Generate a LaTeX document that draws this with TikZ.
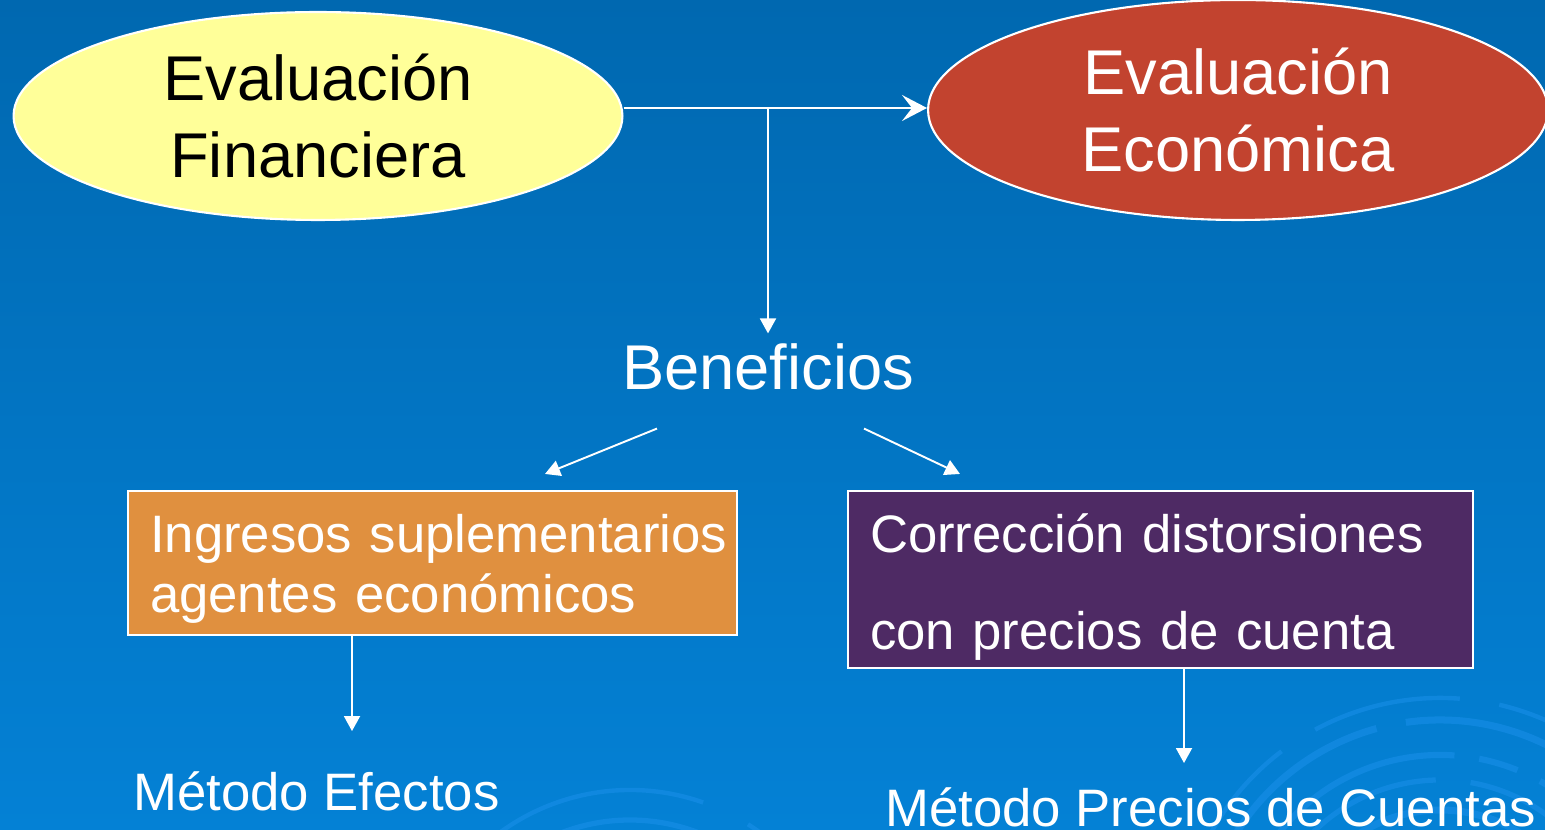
\documentclass[tikz,border=0pt]{standalone}
\usepackage{fontspec}
\setmainfont{Liberation Sans}
\usetikzlibrary{positioning,arrows.meta,calc,shapes.geometric}
\definecolor{sky}{HTML}{0068B0}
\definecolor{skylow}{HTML}{0481D5}
\definecolor{swirl}{HTML}{1A90EA}
\definecolor{lemon}{HTML}{FFFF99}
\definecolor{brick}{HTML}{C2432F}
\definecolor{amber}{HTML}{E0903F}
\definecolor{plum}{HTML}{4E2A64}

\begin{document}
\begin{tikzpicture}[x=0.02cm,y=-0.02cm,
  evl/.style={ellipse,draw=white,line width=1.2pt,inner sep=0pt,align=center,
    font=\fontsize{36}{44}\selectfont},
  box/.style={rectangle,draw=white,line width=1.2pt,text=white,inner xsep=0.44cm,
    inner ysep=0pt,align=left,text height=10pt,font=\fontsize{30}{34}\selectfont},
  lbl/.style={text=white,inner sep=0.2cm},
  wline/.style={draw=white,line width=1.1pt},
  tri/.style={-{Triangle[length=0.3cm,width=0.32cm]}}
]
% ---- backdrop
\fill[top color=sky,bottom color=skylow] (0,0) rectangle (1545,830);
\useasboundingbox (0,0) rectangle (1545,830);
\clip (0,0) rectangle (1545,830);
% swirl, bottom right and bottom left
\begin{scope}[swirl,opacity=0.55]
\draw[line width=2.5pt,dash pattern=on 3cm off 0.8cm] (1440,960) ++(200:262) arc (200:340:262);
\draw[line width=4pt,dash pattern=on 5cm off 0.6cm] (1440,960) ++(195:240) arc (195:345:240);
\draw[line width=3.5pt,dash pattern=on 0.8cm off 0.5cm on 4cm off 0.5cm] (1440,960) ++(200:205) arc (200:340:205);
\draw[line width=3pt,dash pattern=on 4cm off 0.7cm] (1440,960) ++(205:180) arc (205:335:180);
\draw[line width=4pt] (1440,960) ++(215:150) arc (215:325:150);
\draw[line width=2.5pt,dash pattern=on 0.6cm off 0.5cm on 5cm off 1cm] (630,1010) ++(210:220) arc (210:330:220);
\draw[line width=3pt] (630,1010) ++(215:190) arc (215:325:190);
\end{scope}
% ---- the two evaluations
\node[evl,fill=lemon,text=black,minimum width=12.18cm,minimum height=4.16cm] (fin) at (318,116) {Evaluación\\Financiera};
\node[evl,fill=brick,text=white,minimum width=12.4cm,minimum height=4.4cm] (eco) at (1238,110) {Evaluación\\Económica};
\coordinate (jn) at (768,108);
\node[lbl,font=\fontsize{36}{44}\selectfont] (ben) at (768,367) {Beneficios};
% ---- the two boxes
\node[box,fill=amber,text depth=21.4pt,minimum width=12.18cm,minimum height=2.88cm,text width=11.3cm] (ing) at (432.5,563)
  {\mbox{Ingresos suplementarios}\\agentes económicos};
\node[box,fill=plum,text depth=40.2pt,minimum width=12.5cm,minimum height=3.54cm,text width=11.62cm] (cor) at (1160.5,579.5)
  {Corrección distorsiones\\[21pt]con precios de cuenta};
\node[lbl,inner sep=0pt,anchor=base west,font=\fontsize{30}{36}\selectfont] (mef) at (133,810) {Método Efectos};
\node[lbl,inner sep=0pt,anchor=base west,font=\fontsize{30}{36}\selectfont] (mpc) at (885,826) {Método Precios de Cuentas};
% ---- connectors
\draw[wline,-{Stealth[length=0.5cm,width=0.52cm,inset=0.2cm]}] (jn -| fin.east) -- (jn -| eco.west);
\draw[wline,tri] (jn) -- (ben.north);
\draw[wline,tri] ($(ben.south)+(-111,28)$) -- ($(ing.north)+(112.5,-16)$);
\draw[wline,tri] ($(ben.south)+(96,28)$) -- ($(cor.north)+(-200.5,-16)$);
\draw[wline,tri] ($(ing.south west)+(225,0)$) -- ++(0,95);
\draw[wline,tri] ($(cor.south west)+(337,0)$) -- ++(0,94);
\end{tikzpicture}
\end{document}
